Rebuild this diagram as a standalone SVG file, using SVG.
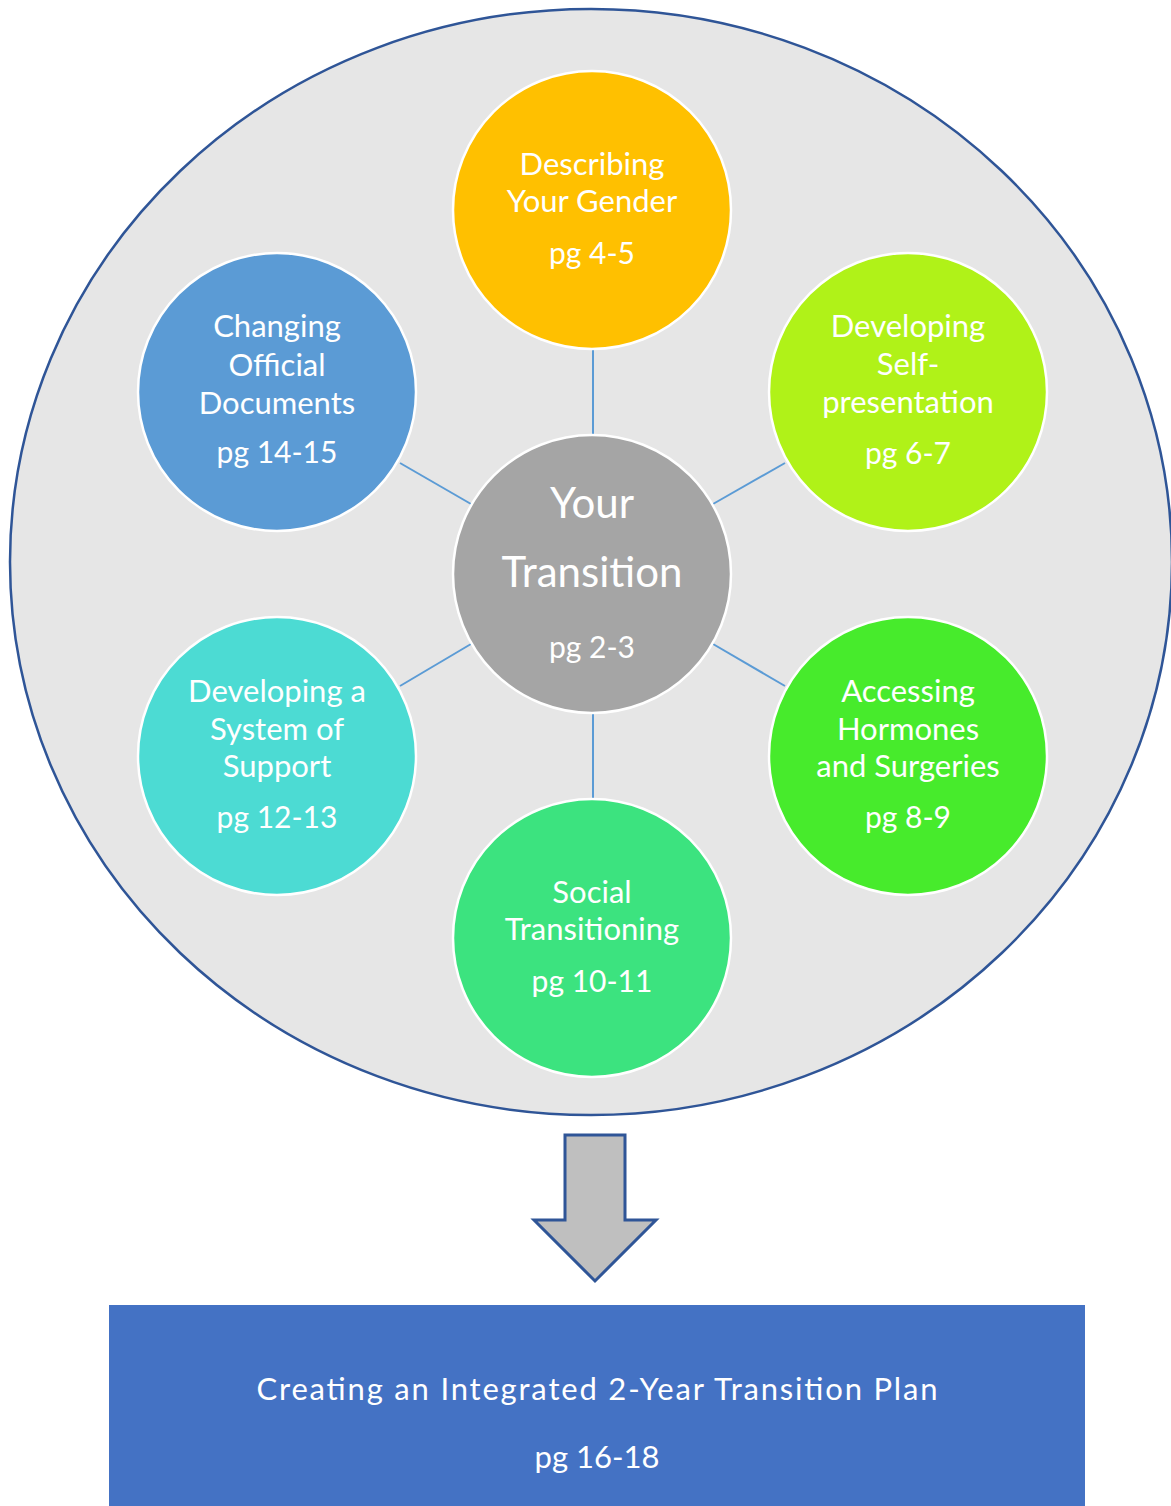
<svg xmlns="http://www.w3.org/2000/svg" width="1171" height="1506" viewBox="0 0 1171 1506">
<style>
.node{stroke:#FFFFFF;stroke-width:2.5}
.lbl{font-family:Lato,"Open Sans","Liberation Sans",sans-serif;fill:#FFFFFF;text-anchor:middle;font-size:31px}
.pg{font-size:30px}
.big{font-size:42px}
.conn line{stroke:#5B9BD5;stroke-width:2}
</style>
<rect x="0" y="0" width="1171" height="1506" fill="#FFFFFF"/>
<g id="outer">
<ellipse cx="591" cy="562" rx="581" ry="553" fill="#E6E6E6" stroke="#2F5597" stroke-width="2.5"/>
</g>
<g id="connectors" class="conn">
<line x1="593" y1="349" x2="593" y2="436"/>
<line x1="593" y1="712" x2="593" y2="800"/>
<line x1="400" y1="463" x2="471" y2="504"/>
<line x1="785" y1="463" x2="713" y2="504"/>
<line x1="400" y1="686" x2="471" y2="644"/>
<line x1="785" y1="686" x2="713" y2="644"/>
</g>
<g id="center">
<circle class="node" cx="592" cy="574" r="139" fill="#A5A5A5"/>
<text class="lbl big" x="592" y="518">Your</text>
<text class="lbl big" x="592" y="587">Transition</text>
<text class="lbl pg" x="592" y="658">pg 2-3</text>
</g>
<g id="gender">
<circle class="node" cx="592" cy="210" r="139" fill="#FFC000"/>
<text class="lbl" x="592" y="175">Describing</text>
<text class="lbl" x="592" y="212">Your Gender</text>
<text class="lbl pg" x="592" y="264">pg 4-5</text>
</g>
<g id="selfpresentation">
<circle class="node" cx="908" cy="392" r="139" fill="#B0F218"/>
<text class="lbl" x="908" y="337">Developing</text>
<text class="lbl" x="908" y="375">Self-</text>
<text class="lbl" x="908" y="413">presentation</text>
<text class="lbl pg" x="908" y="464">pg 6-7</text>
</g>
<g id="hormones">
<circle class="node" cx="908" cy="756" r="139" fill="#47EB2C"/>
<text class="lbl" x="908" y="702">Accessing</text>
<text class="lbl" x="908" y="740">Hormones</text>
<text class="lbl" x="908" y="777">and Surgeries</text>
<text class="lbl pg" x="908" y="828">pg 8-9</text>
</g>
<g id="social">
<circle class="node" cx="592" cy="938" r="139" fill="#3CE37F"/>
<text class="lbl" x="592" y="903">Social</text>
<text class="lbl" x="592" y="940">Transitioning</text>
<text class="lbl pg" x="592" y="992">pg 10-11</text>
</g>
<g id="support">
<circle class="node" cx="277" cy="756" r="139" fill="#4CDBD3"/>
<text class="lbl" x="277" y="702">Developing a</text>
<text class="lbl" x="277" y="740">System of</text>
<text class="lbl" x="277" y="777">Support</text>
<text class="lbl pg" x="277" y="828">pg 12-13</text>
</g>
<g id="documents">
<circle class="node" cx="277" cy="392" r="139" fill="#5B9BD5"/>
<text class="lbl" x="277" y="337">Changing</text>
<text class="lbl" x="277" y="376">Official</text>
<text class="lbl" x="277" y="414">Documents</text>
<text class="lbl pg" x="277" y="463">pg 14-15</text>
</g>
<g id="arrow">
<polygon points="565,1135 625,1135 625,1220 656,1220 595,1281 534,1220 565,1220" fill="#BFBFBF" stroke="#2F5597" stroke-width="3"/>
</g>
<g id="plan">
<rect x="109" y="1305" width="976" height="210" fill="#4472C4"/>
<text class="lbl" x="597" y="1400" font-size="32" textLength="681" lengthAdjust="spacing">Creating an Integrated 2-Year Transition Plan</text>
<text class="lbl" x="597" y="1468">pg 16-18</text>
</g>
</svg>
